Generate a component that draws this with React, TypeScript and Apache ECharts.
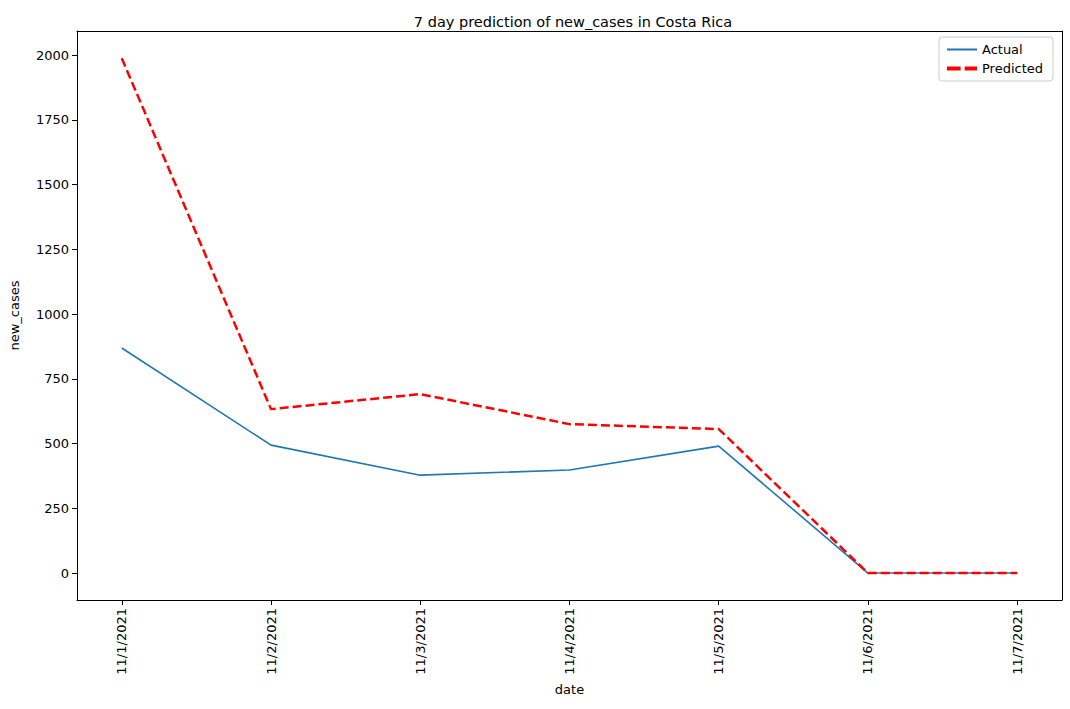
import { useEffect, useRef } from "react";
import * as echarts from "echarts";

const dates = ["11/1/2021", "11/2/2021", "11/3/2021", "11/4/2021", "11/5/2021", "11/6/2021", "11/7/2021"];
const actual = [869, 494, 378, 398, 490, 0, 0];
const predicted = [1988, 633, 691, 575, 556, 0, 0];
const yTicks = [0, 250, 500, 750, 1000, 1250, 1500, 1750, 2000];

export default function App() {
  const ref = useRef<HTMLDivElement | null>(null);

  useEffect(() => {
    if (!ref.current) return;
    document.body.style.margin = "0";
    const chart = echarts.init(ref.current, undefined, { renderer: "svg" });
    const font = "DejaVu Sans";
    const line = { show: true, onZero: false, lineStyle: { color: "#000", width: 1 } };
    const idx = dates.map((_, i) => i);

    chart.setOption({
      animation: false,
      textStyle: { fontFamily: font },
      title: {
        text: "7 day prediction of new_cases in Costa Rica",
        left: 568,
        textAlign: "center",
        top: 9,
        textStyle: { fontSize: 14.5, fontWeight: "normal", color: "#000", fontFamily: font },
      },
      legend: {
        orient: "vertical",
        right: 17,
        top: 37,
        padding: [6, 10, 6, 8],
        itemGap: 6,
        itemWidth: 30,
        itemHeight: 10,
        borderColor: "#ccc",
        borderWidth: 1,
        borderRadius: 3,
        textStyle: { fontSize: 13, color: "#000", fontFamily: font },
        data: [
          { name: "Actual", icon: "path://M0,4.3L30,4.3L30,6.3L0,6.3Z" },
          { name: "Predicted", icon: "path://M0,4L10,4L10,7L0,7ZM13,4L22,4L22,7L13,7Z" },
        ],
      },
      grid: { left: 72, right: 8, top: 31, bottom: 109 },
      xAxis: [
        {
          type: "value",
          min: -0.3,
          max: 6.3,
          name: "date",
          nameLocation: "middle",
          nameGap: 83,
          nameTextStyle: { fontSize: 13, color: "#000" },
          axisLine: line,
          axisTick: { show: true, customValues: idx, length: 5, lineStyle: { color: "#000" } },
          axisLabel: {
            customValues: idx,
            rotate: 90,
            fontSize: 13,
            color: "#000",
            formatter: (v: number) => dates[Math.round(v)] ?? "",
          },
          splitLine: { show: false },
        },
        { type: "value", position: "top", min: -0.3, max: 6.3, axisLine: line, axisTick: { show: false }, axisLabel: { show: false }, splitLine: { show: false } },
      ],
      yAxis: [
        {
          type: "value",
          min: -104,
          max: 2093,
          name: "new_cases",
          nameLocation: "middle",
          nameGap: 56,
          nameTextStyle: { fontSize: 13, color: "#000" },
          axisLine: line,
          axisTick: { show: true, customValues: yTicks, length: 5, lineStyle: { color: "#000" } },
          axisLabel: { customValues: yTicks, fontSize: 13, color: "#000", formatter: (v: number) => String(v) },
          splitLine: { show: false },
        },
        { type: "value", position: "right", min: -104, max: 2093, axisLine: line, axisTick: { show: false }, axisLabel: { show: false }, splitLine: { show: false } },
      ],
      series: [
        {
          name: "Actual",
          type: "line",
          data: actual.map((v, i) => [i, v]),
          symbol: "none",
          color: "#1f77b4",
          lineStyle: { color: "#1f77b4", width: 1.6 },
        },
        {
          name: "Predicted",
          type: "line",
          data: predicted.map((v, i) => [i, v]),
          symbol: "none",
          color: "#ff0000",
          lineStyle: { color: "#ff0000", width: 2.5, type: [9, 4] },
        },
      ],
    });

    return () => chart.dispose();
  }, []);

  return <div ref={ref} style={{ width: 1070, height: 709 }} />;
}
